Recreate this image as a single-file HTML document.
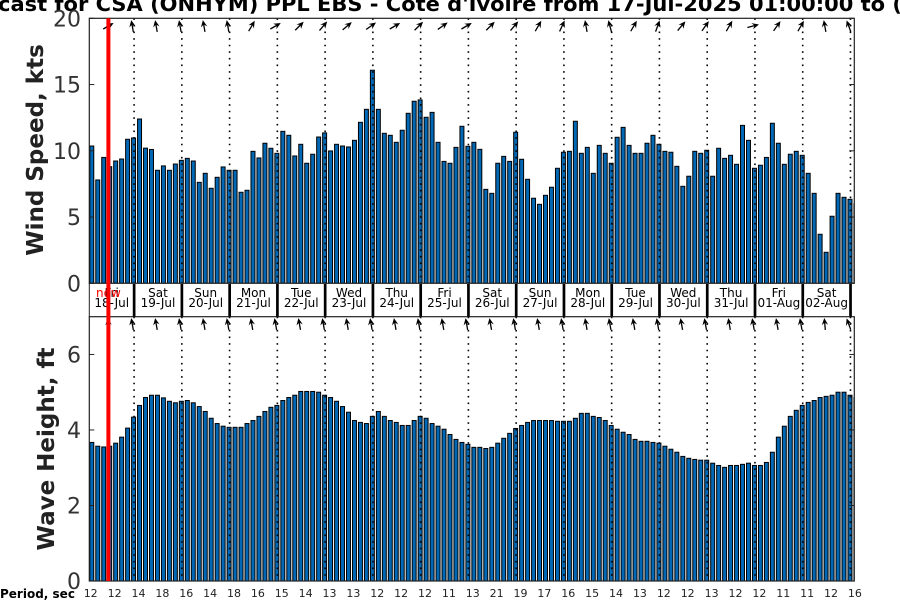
<!DOCTYPE html>
<html><head><meta charset="utf-8">
<style>
html,body{margin:0;padding:0;background:#fff;}
svg{display:block;font-family:"DejaVu Sans","Liberation Sans",sans-serif;}
</style></head>
<body>
<svg id="chart" width="900" height="600" viewBox="0 0 900 600" xmlns="http://www.w3.org/2000/svg">
  <defs>
    <clipPath id="clipTop"><rect x="89.3" y="18.3" width="765" height="265"/></clipPath>
    <clipPath id="clipBot"><rect x="89.3" y="316.7" width="765" height="264.3"/></clipPath>
  </defs>
  <text x="-2" y="11" font-size="20" font-weight="bold" fill="#000" textLength="904" lengthAdjust="spacingAndGlyphs">cast for CSA (ONHYM) PPL EBS  - Cote d'Ivoire from 17-Jul-2025 01:00:00 to (</text>
  <text transform="translate(43,150) rotate(-90)" text-anchor="middle" font-size="23" font-weight="bold" fill="#222">Wind Speed, kts</text>
  <text transform="translate(54,449) rotate(-90)" text-anchor="middle" font-size="23" font-weight="bold" fill="#222">Wave Height, ft</text>
  <text x="0" y="598" font-size="12" font-weight="bold" fill="#000">Period, sec</text>
  <g id="layer"></g>
</svg>
<script>
const windSpeed = [10.36,7.8,9.5,8.8,9.23,9.38,10.87,10.97,12.4,10.2,10.1,8.53,8.86,8.53,9.0,9.28,9.43,9.23,7.62,8.3,7.17,8.0,8.78,8.53,8.53,6.87,7.02,9.96,9.46,10.57,10.19,9.81,11.47,11.17,9.61,10.49,9.06,9.74,11.04,11.35,9.99,10.49,10.36,10.29,10.79,12.15,13.13,16.08,13.13,11.32,11.17,10.64,11.55,12.83,13.74,13.84,12.53,12.9,10.64,9.2,9.06,10.26,11.85,10.34,10.64,10.11,7.09,6.79,9.06,9.58,9.2,11.4,9.36,7.85,6.42,5.96,6.64,7.25,8.68,9.89,9.96,12.23,9.81,10.26,8.3,10.41,9.81,9.06,11.02,11.77,10.41,9.81,9.81,10.57,11.17,10.49,9.96,9.89,8.83,7.32,8.08,9.96,9.81,10.04,8.08,10.19,9.43,9.66,8.98,11.92,10.79,8.68,8.91,9.5,12.08,10.57,8.98,9.74,9.96,9.66,8.3,6.79,3.7,2.34,5.06,6.79,6.49,6.34,6.0];
const waveHeight = [3.67,3.57,3.55,3.57,3.65,3.81,4.05,4.34,4.65,4.86,4.92,4.92,4.85,4.76,4.72,4.76,4.78,4.72,4.62,4.49,4.31,4.17,4.1,4.07,4.07,4.07,4.17,4.25,4.36,4.49,4.6,4.65,4.78,4.86,4.92,5.02,5.02,5.02,5.0,4.92,4.86,4.76,4.62,4.47,4.25,4.2,4.17,4.36,4.49,4.36,4.25,4.2,4.12,4.12,4.25,4.36,4.31,4.17,4.1,4.02,3.88,3.75,3.67,3.62,3.54,3.54,3.51,3.54,3.65,3.78,3.91,4.04,4.12,4.2,4.25,4.25,4.25,4.25,4.23,4.23,4.23,4.31,4.44,4.44,4.36,4.33,4.25,4.12,4.02,3.94,3.88,3.75,3.7,3.7,3.67,3.65,3.57,3.49,3.41,3.3,3.25,3.22,3.2,3.2,3.12,3.06,3.01,3.06,3.06,3.09,3.12,3.06,3.06,3.14,3.41,3.81,4.1,4.36,4.52,4.65,4.73,4.78,4.86,4.89,4.92,5.0,5.0,4.92,4.86];
const windDirDeg = [60,-10,-10,-10,-10,-10,30,60,45,40,50,55,60,45,55,60,45,40,30,25,-10,-15,30,20,40,35,30,75,35,30,-10,-20];
const waveDirDeg = [-5,-10,-10,-10,-10,-10,-10,-10,-10,-10,-10,-10,-10,-10,-10,-10,-10,-10,-10,-10,-10,-10,-10,-10,-10,-10,-10,-10,-10,-10,-5,-20];
const periodLabels = ["12","12","14","18","16","14","18","16","15","14","13","13","12","12","12","11","13","21","19","17","16","15","14","13","12","12","13","12","12","11","11","12","16"];
const dayNames = ["Fri","Sat","Sun","Mon","Tue","Wed","Thu","Fri","Sat","Sun","Mon","Tue","Wed","Thu","Fri","Sat"];
const dayDates = ["18-Jul","19-Jul","20-Jul","21-Jul","22-Jul","23-Jul","24-Jul","25-Jul","26-Jul","27-Jul","28-Jul","29-Jul","30-Jul","31-Jul","01-Aug","02-Aug"];
const windTicks = [0,5,10,15,20];
const waveTicks = [0,2,4,6];

const NS = "http://www.w3.org/2000/svg";
const layer = document.getElementById("layer");
const X0 = 89.3, X1 = 854.3, P = 5.97;
const T = {top:18.3, bot:283.3, max:20};
const B = {top:316.7, bot:581, max:7};
function xi(i){ return X0 + i*P; }
function yT(v){ return T.bot - v/T.max*(T.bot-T.top); }
function yB(v){ return B.bot - v/B.max*(B.bot-B.top); }
function mk(tag, attrs, parent){
  const e = document.createElementNS(NS, tag);
  for (const k in attrs) e.setAttribute(k, attrs[k]);
  (parent||layer).appendChild(e);
  return e;
}

function panel(values, yf, pan, clip, nameBase, ticks, dirs, arrowY){
  const g = mk("g", {"clip-path":"url(#"+clip+")"});
  
  
  values.forEach((v,i)=>{
    const y = yf(v);
    const r = mk("rect", {x:xi(i)+0.5, y:y, width:P-2, height:pan.bot-y, fill:"#0068b4", stroke:"#000", "stroke-width":1}, g);
    
    
  });
  // dotted day lines
  for (let d=0; d<16; d++){
    const x = xi(7.5+8*d);
    const l = mk("line", {x1:x, x2:x, y1:pan.top, y2:pan.bot, stroke:"#000", "stroke-width":1.6, "stroke-dasharray":"1.6,5"});
    
    
  }
  // frame
  const f = mk("rect", {x:X0, y:pan.top, width:X1-X0, height:pan.bot-pan.top, fill:"none", stroke:"#222", "stroke-width":1.2});
  
  
  ticks.forEach(t=>{
    const y = yf(t);
    const a = mk("line", {x1:X0, x2:X0+5, y1:y, y2:y, stroke:"#222"});
    
    
    const b = mk("line", {x1:X1-5, x2:X1, y1:y, y2:y, stroke:"#222"});
    
    
    const tx = mk("text", {x:81, y:y+8, "text-anchor":"end", "font-size":22, fill:"#333"});
    tx.textContent = t;
    
    
  });
  // direction arrows
  dirs.forEach((deg,k)=>{
    const cx = xi(4*k+3.2);
    const ag = mk("g", {transform:"translate("+cx+","+arrowY+") rotate("+deg+")"});
    
    
    mk("line", {x1:0, y1:6, x2:0, y2:-3, stroke:"#000", "stroke-width":1.3}, ag);
    mk("path", {d:"M0,-6 L-3.2,1 L0,-1.5 L3.2,1 Z", fill:"#000"}, ag);
  });
}
panel(windSpeed, yT, T, "clipTop", "wind", windTicks, windDirDeg, 26);
panel(waveHeight, yB, B, "clipBot", "wave", waveTicks, waveDirDeg, 324);

// day label strip
for (let d=0; d<16; d++){
  const left = d===0 ? X0 : xi(7.5+8*(d-1));
  const right = xi(7.5+8*d);
  const cx = (left+right)/2;
  const t1 = mk("text", {x:cx, y:297, "text-anchor":"middle", "font-size":12, fill:"#000"});
  t1.textContent = dayNames[d];
  
  
  const t2 = mk("text", {x:cx, y:307, "text-anchor":"middle", "font-size":12, fill:"#000"});
  t2.textContent = dayDates[d];
  
  
  const sep = mk("rect", {x:right-1.3, y:284, width:2.7, height:32.5, fill:"#000"});
  
  
}
mk("line", {x1:X0, x2:X0, y1:283, y2:317, stroke:"#222"});

// period labels
periodLabels.forEach((s,k)=>{
  const t = mk("text", {x:xi(4*k)+1.4, y:597, "text-anchor":"middle", "font-size":11, fill:"#222"});
  t.textContent = s;
  
  
});

// now marker
const nowX = 108.4;
const nl = mk("rect", {x:nowX-2, y:18.3, width:4, height:562.7, fill:"#ff0000"});


const nt = mk("text", {x:nowX, y:297, "text-anchor":"middle", "font-size":12, fill:"#ff0000"});
nt.textContent = "now";


</script>
</body></html>
